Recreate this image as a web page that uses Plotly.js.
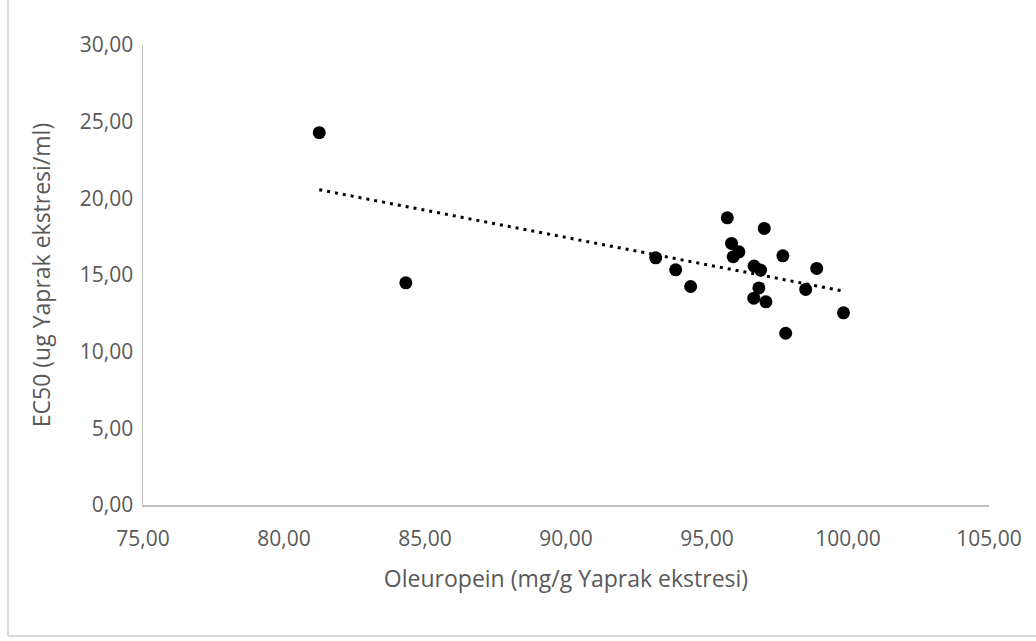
<!DOCTYPE html>
<html><head><meta charset="utf-8">
<script src="https://cdn.plot.ly/plotly-3.0.1.min.js"></script>
<style>html,body{margin:0;padding:0;background:#fff;}#chart{width:1036px;height:641px;}</style>
</head><body><div id="chart"></div>
<script>
// Oleuropein (mg/g) values
const oleuropein = [81.25, 84.32, 93.18, 93.89, 94.42, 95.72, 95.87, 96.13, 95.93, 96.67, 96.90, 96.84, 96.66, 97.09, 97.03, 97.69, 97.79, 98.50, 98.89, 99.84];
// EC50 values
const ec50 = [24.28, 14.49, 16.12, 15.34, 14.25, 18.73, 17.06, 16.51, 16.19, 15.58, 15.32, 14.16, 13.49, 13.25, 18.04, 16.25, 11.20, 14.06, 15.43, 12.53];
// Linear trendline endpoints
const trendX = [81.25, 99.84];
const trendY = [20.56, 13.95];
// Tick values and labels
const xTicks = [75, 80, 85, 90, 95, 100, 105];
const xTickLabels = ["75,00", "80,00", "85,00", "90,00", "95,00", "100,00", "105,00"];
const yTicks = [0, 5, 10, 15, 20, 25, 30];
const yTickLabels = ["0,00", "5,00", "10,00", "15,00", "20,00", "25,00", "30,00"];

const font = "'Open Sans', 'DejaVu Sans', sans-serif";
const grey = "#595959";

const traces = [
  {x: oleuropein, y: ec50, type: "scatter", mode: "markers",
   marker: {color: "#000", size: 13}, hoverinfo: "skip"},
  {x: trendX, y: trendY, type: "scatter", mode: "lines",
   line: {color: "#000", width: 3, dash: "3px,5px"}, hoverinfo: "skip"}
];

const layout = {
  width: 1036, height: 641,
  margin: {l: 143, r: 47, t: 45, b: 136, pad: 0},
  paper_bgcolor: "#fff", plot_bgcolor: "#fff",
  showlegend: false,
  font: {family: font, color: grey, size: 21},
  xaxis: {
    range: [75, 105], tickvals: xTicks, ticktext: xTickLabels,
    showgrid: false, zeroline: false, showline: true, linecolor: "#bfbfbf", linewidth: 1.5,
    ticks: "", ticklabelstandoff: 14, tickfont: {family: font, size: 21, color: grey},
    title: {text: "Oleuropein (mg/g Yaprak ekstresi)", font: {family: font, size: 23, color: grey}, standoff: 20}
  },
  yaxis: {
    range: [0, 30], tickvals: yTicks, ticktext: yTickLabels,
    showgrid: false, zeroline: false, showline: true, linecolor: "#bfbfbf", linewidth: 1.5,
    ticks: "", ticklabelstandoff: 4, tickfont: {family: font, size: 21, color: grey},
    title: {text: "EC50 (ug Yaprak ekstresi/ml)", font: {family: font, size: 23, color: grey}, standoff: 23}
  },
  shapes: [
    {type: "line", xref: "paper", yref: "paper", x0: -135/846, x1: -135/846, y0: -131/460, y1: 45/460 + 1,
     line: {color: "#d9d9d9", width: 2}},
    {type: "line", xref: "paper", yref: "paper", x0: -135/846, x1: 1 + 47/846, y0: -131/460, y1: -131/460,
     line: {color: "#d9d9d9", width: 2}}
  ]
};

Plotly.newPlot("chart", traces, layout, {staticPlot: true, displayModeBar: false});
</script>
</body></html>
